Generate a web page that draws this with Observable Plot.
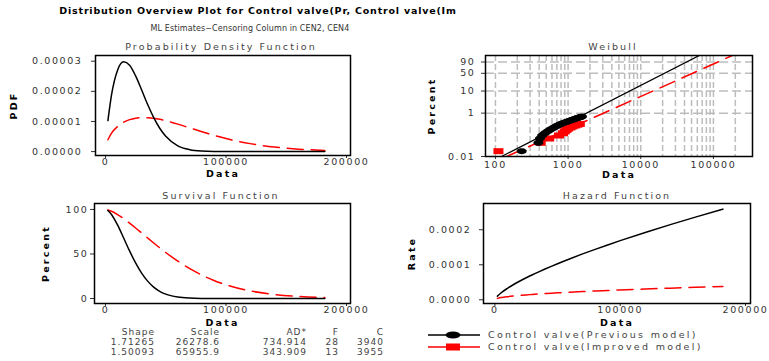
<!DOCTYPE html>
<html><head><meta charset="utf-8">
<script src="https://cdn.jsdelivr.net/npm/d3@7"></script>
<script src="https://cdn.jsdelivr.net/npm/@observablehq/plot@0.6"></script>
<style>
html,body{margin:0;padding:0;background:#fff;}
#root{position:relative;width:769px;height:361px;overflow:hidden;background:#fff;font-family:"DejaVu Sans",sans-serif;}
#root svg{position:absolute;overflow:visible;}
.lbl{position:absolute;white-space:nowrap;line-height:1;transform:translate(-50%,-50%);}
.title{font-size:9.5px;font-weight:bold;letter-spacing:0.8px;color:#000;}
.sub{font-size:8px;letter-spacing:0.1px;color:#333;}
.ptitle{font-size:9.5px;letter-spacing:2.1px;color:#444;}
.cell{position:absolute;white-space:nowrap;line-height:1;transform:translate(-100%,-50%);font-size:9px;letter-spacing:1px;color:#444;}
.leg{position:absolute;white-space:nowrap;line-height:1;transform:translateY(-50%);font-size:9.5px;letter-spacing:2.3px;color:#444;}
#root g[aria-label="x-axis label"] text,#root g[aria-label="y-axis label"] text{font-weight:bold;font-size:9.5px;letter-spacing:2.2px;fill:#000;}
</style>
</head><body><div id="root"></div>
<script>
// ---------- data ----------
const seriesNames = ["Control valve(Previous model)", "Control valve(Improved model)"];
const tSample = [2000,5000,10000,15000,20000,25000,30000,35000,40000,45000,50000,60000,70000,80000,90000,100000,120000,140000,160000,182000];
const pdfPrev = [1.028e-5,1.884e-5,2.704e-5,2.981e-5,2.868e-5,2.512e-5,2.043e-5,1.561e-5,1.128e-5,7.75e-6,5.08e-6,1.92e-6,6.2e-7,1.7e-7,4e-8,1e-8,0,0,0,0];
const pdfImpr = [3.93e-6,6.12e-6,8.34e-6,9.73e-6,1.060e-5,1.109e-5,1.129e-5,1.126e-5,1.105e-5,1.070e-5,1.024e-5,9.12e-6,7.86e-6,6.59e-6,5.40e-6,4.33e-6,2.64e-6,1.50e-6,8.1e-7,3.9e-7];
const survPrev = [98.79,94.33,82.60,68.20,53.45,39.93,28.52,19.52,12.83,8.11,4.93,1.64,0.47,0.12,0.03,0.01,0,0,0,0];
const survImpr = [99.48,97.94,94.28,89.74,84.64,79.21,73.60,67.96,62.37,56.93,51.69,42.00,33.51,26.29,20.30,15.45,8.58,4.53,2.28,1.02];
const hazPrev = [1.04e-5,2.00e-5,3.27e-5,4.37e-5,5.37e-5,6.29e-5,7.16e-5,7.99e-5,8.79e-5,9.56e-5,1.031e-4,1.174e-4,1.310e-4,1.441e-4,1.567e-4,1.689e-4,1.924e-4,2.147e-4,2.361e-4,2.589e-4];
const hazImpr = [3.95e-6,6.25e-6,8.85e-6,1.084e-5,1.252e-5,1.400e-5,1.534e-5,1.657e-5,1.771e-5,1.879e-5,1.981e-5,2.170e-5,2.345e-5,2.507e-5,2.659e-5,2.803e-5,3.071e-5,3.318e-5,3.547e-5,3.784e-5];
// Weibull probability plot points (time, percent)
const wbTimePrev = [230,390,410,440,480,520,560,600,640,680,720,760,800,850,900,950,1000,1050,1100,1150,1200,1250,1300,1350,1400,1450,1500,1550];
const wbPctPrev = [0.0176,0.0428,0.0680,0.0932,0.1184,0.1436,0.1688,0.1940,0.2192,0.2444,0.2697,0.2948,0.3200,0.3452,0.3704,0.3956,0.4208,0.4460,0.4712,0.4964,0.5216,0.5468,0.5720,0.5972,0.6224,0.6476,0.6728,0.6980];
const wbTimeImpr = [110,420,550,750,850,900,950,1000,1080,1150,1250,1350,1450];
const wbPctImpr = [0.0176,0.0428,0.0680,0.0932,0.1184,0.1436,0.1688,0.1940,0.2192,0.2444,0.2697,0.2948,0.3200];
// fitted lines (endpoints)
const fitTimePrev = [121, 64000], fitPctPrev = [0.01, 99];
const fitTimeImpr = [143, 182000], fitPctImpr = [0.01, 99];
// ticks
const xTicks = [0, 100000, 200000];
const pdfTicks = [0, 0.00001, 0.00002, 0.00003];
const survTicks = [0, 50, 100];
const hazTicks = [0, 0.0001, 0.0002];
const wbXTicks = [100, 1000, 10000, 100000];
const wbYTicks = [0.01, 1, 10, 50, 90];
const wbYLabels = ["0.01", "1", "10", "50", "90"];
const wbGridX = [100,200,300,400,500,600,700,800,900,1000,2000,3000,4000,5000,6000,7000,8000,9000,10000,20000,30000,40000,50000,60000,70000,80000,90000,100000,200000];
// table
const tableHead = ["Shape", "Scale", "AD*", "F", "C"];
const tableRows = [["1.71265","26278.6","734.914","28","3940"],["1.50093","65955.9","343.909","13","3955"]];

// ---------- build ----------
const root = document.getElementById("root");
const rows = tSample.map((t, i) => ({t, pdfPrev: pdfPrev[i], pdfImpr: pdfImpr[i], survPrev: survPrev[i], survImpr: survImpr[i], hazPrev: hazPrev[i], hazImpr: hazImpr[i]}));
const wb = p => Math.log(-Math.log(1 - p / 100));
const ptsPrev = wbTimePrev.map((t, i) => ({t, p: wbPctPrev[i]}));
const ptsImpr = wbTimeImpr.map((t, i) => ({t, p: wbPctImpr[i]}));
const fitPrev = fitTimePrev.map((t, i) => ({t, p: fitPctPrev[i]}));
const fitImpr = fitTimeImpr.map((t, i) => ({t, p: fitPctImpr[i]}));

const tickStyle = {fontFamily: '"DejaVu Sans", sans-serif', fontSize: "9.5px", letterSpacing: "1.6px", color: "#333", background: "transparent"};
const ellipseSym = {draw(ctx) { const n = 20; for (let i = 0; i < n; i++) { const a = 2 * Math.PI * i / n; const x = 5 * Math.cos(a), y = 3 * Math.sin(a); if (i) ctx.lineTo(x, y); else ctx.moveTo(x, y); } ctx.closePath(); }};
const rectSym = {draw(ctx) { ctx.moveTo(-5, -3); ctx.lineTo(5, -3); ctx.lineTo(5, 3); ctx.lineTo(-5, 3); ctx.closePath(); }};
const dash = "16,8";

function place(el, left, top) { el.style.left = left + "px"; el.style.top = top + "px"; root.appendChild(el); }
function label(text, cls, x, y) { const d = document.createElement("div"); d.className = cls; d.textContent = text; d.style.left = x + "px"; d.style.top = y + "px"; root.appendChild(d); }

// PDF
place(Plot.plot({
  width: 370, height: 142, marginLeft: 95, marginRight: 20, marginTop: 17, marginBottom: 25,
  style: tickStyle,
  x: {domain: [-8300, 203300]},
  y: {domain: [-1.3e-6, 3.19e-5]},
  marks: [
    Plot.line(rows, {x: "t", y: "pdfImpr", stroke: "red", strokeWidth: 1.5, strokeDasharray: dash, curve: "monotone-x"}),
    Plot.line(rows, {x: "t", y: "pdfPrev", stroke: "black", strokeWidth: 1.5, curve: "monotone-x"}),
    Plot.axisX({ticks: xTicks, tickFormat: d => String(d), tickSize: 3, tickPadding: 0, label: "Data", labelArrow: "none", labelAnchor: "center", labelOffset: 21}),
    Plot.axisY({ticks: pdfTicks, tickFormat: d => d.toFixed(5), tickSize: 4, tickPadding: 9, label: "PDF", labelArrow: "none", labelAnchor: "center", labelOffset: 85}),
    Plot.frame({stroke: "black", strokeWidth: 1.5})
  ]
}), 0, 38);

// Weibull
place(Plot.plot({
  width: 389, height: 142, marginLeft: 105, marginRight: 17, marginTop: 17, marginBottom: 24,
  style: tickStyle,
  x: {type: "log", domain: [73, 345000]},
  y: {domain: [wb(0.01), wb(99)]},
  marks: [
    Plot.ruleX(wbGridX, {stroke: "#bdbdbd", strokeWidth: 1.5, strokeDasharray: "6,3"}),
    Plot.ruleY(wbYTicks.slice(1), {y: wb, stroke: "#bdbdbd", strokeWidth: 1.5, strokeDasharray: "9,4"}),
    Plot.line(fitImpr, {x: "t", y: d => wb(d.p), stroke: "red", strokeWidth: 1.5, strokeDasharray: dash, clip: true}),
    Plot.line(fitPrev, {x: "t", y: d => wb(d.p), stroke: "black", strokeWidth: 1.3, clip: true}),
    Plot.dot(ptsImpr, {x: "t", y: d => wb(d.p), symbol: rectSym, fill: "red", stroke: "none"}),
    Plot.dot(ptsPrev, {x: "t", y: d => wb(d.p), symbol: ellipseSym, fill: "black", stroke: "none"}),
    Plot.axisX({ticks: wbXTicks, tickFormat: d => String(d), tickSize: 3, tickPadding: 2, label: "Data", labelArrow: "none", labelAnchor: "center", labelOffset: 21}),
    Plot.axisY({ticks: wbYTicks.map(wb), tickFormat: v => wbYLabels[wbYTicks.map(wb).indexOf(v)], tickSize: 4, tickPadding: 6, label: "Percent", labelArrow: "none", labelAnchor: "center", labelOffset: 57}),
    Plot.frame({stroke: "black", strokeWidth: 1.5})
  ]
}), 380, 38);

// Survival
place(Plot.plot({
  width: 370, height: 140, marginLeft: 94, marginRight: 20, marginTop: 17, marginBottom: 23,
  style: tickStyle,
  x: {domain: [-9100, 203300]},
  y: {domain: [-5.6, 106.7]},
  marks: [
    Plot.line(rows, {x: "t", y: "survImpr", stroke: "red", strokeWidth: 1.5, strokeDasharray: dash, curve: "monotone-x"}),
    Plot.line(rows, {x: "t", y: "survPrev", stroke: "black", strokeWidth: 1.5, curve: "monotone-x"}),
    Plot.axisX({ticks: xTicks, tickFormat: d => String(d), tickSize: 3, tickPadding: 0, label: "Data", labelArrow: "none", labelAnchor: "center", labelOffset: 22}),
    Plot.axisY({ticks: survTicks, tickFormat: d => String(d), tickSize: 4, tickPadding: 2, label: "Percent", labelArrow: "none", labelAnchor: "center", labelOffset: 52}),
    Plot.frame({stroke: "black", strokeWidth: 1.5})
  ]
}), 0, 186);

// Hazard
place(Plot.plot({
  width: 389, height: 140, marginLeft: 103, marginRight: 19, marginTop: 17, marginBottom: 23,
  style: tickStyle,
  x: {domain: [-9100, 204000]},
  y: {domain: [-1.06e-5, 2.75e-4]},
  marks: [
    Plot.line(rows, {x: "t", y: "hazImpr", stroke: "red", strokeWidth: 1.5, strokeDasharray: dash, curve: "monotone-x"}),
    Plot.line(rows, {x: "t", y: "hazPrev", stroke: "black", strokeWidth: 1.5, curve: "monotone-x"}),
    Plot.axisX({ticks: xTicks, tickFormat: d => String(d), tickSize: 3, tickPadding: 0, label: "Data", labelArrow: "none", labelAnchor: "center", labelOffset: 22}),
    Plot.axisY({ticks: hazTicks, tickFormat: d => d.toFixed(4), tickSize: 4, tickPadding: 8, label: "Rate", labelArrow: "none", labelAnchor: "center", labelOffset: 75}),
    Plot.frame({stroke: "black", strokeWidth: 1.5})
  ]
}), 380, 186);

// titles
label("Distribution Overview Plot for Control valve(Pr, Control valve(Im", "lbl title", 258, 11);
label("ML Estimates\u2212Censoring Column in CEN2, CEN4", "lbl sub", 250, 29);
label("Probability Density Function", "lbl ptitle", 221, 47);
label("Weibull", "lbl ptitle", 613, 47);
label("Survival Function", "lbl ptitle", 221, 196);
label("Hazard Function", "lbl ptitle", 617, 196);

// table
const colRight = [155, 220, 307, 339, 384];
const rowY = [332, 342, 352];
[tableHead, ...tableRows].forEach((r, j) => r.forEach((txt, i) => {
  const d = document.createElement("div"); d.className = "cell"; d.textContent = txt;
  d.style.left = colRight[i] + "px"; d.style.top = rowY[j] + "px"; root.appendChild(d);
}));

// legend
const legColors = ["black", "red"];
const legY = [335, 347];
seriesNames.forEach((name, i) => {
  const ns = "http://www.w3.org/2000/svg";
  const s = document.createElementNS(ns, "svg");
  s.setAttribute("width", 56); s.setAttribute("height", 12);
  s.style.left = "426px"; s.style.top = (legY[i] - 6) + "px";
  const ln = document.createElementNS(ns, "line");
  ln.setAttribute("x1", 2); ln.setAttribute("x2", 54); ln.setAttribute("y1", 6); ln.setAttribute("y2", 6);
  ln.setAttribute("stroke", legColors[i]); ln.setAttribute("stroke-width", 1.5);
  s.appendChild(ln);
  let m;
  if (i === 0) { m = document.createElementNS(ns, "ellipse"); m.setAttribute("cx", 27); m.setAttribute("cy", 6); m.setAttribute("rx", 7.5); m.setAttribute("ry", 3.5); }
  else { m = document.createElementNS(ns, "rect"); m.setAttribute("x", 20); m.setAttribute("y", 2.5); m.setAttribute("width", 14); m.setAttribute("height", 7); }
  m.setAttribute("fill", legColors[i]); s.appendChild(m);
  root.appendChild(s);
  const d = document.createElement("div"); d.className = "leg"; d.textContent = name;
  d.style.left = "488px"; d.style.top = legY[i] + "px"; root.appendChild(d);
});
</script>
</body></html>
